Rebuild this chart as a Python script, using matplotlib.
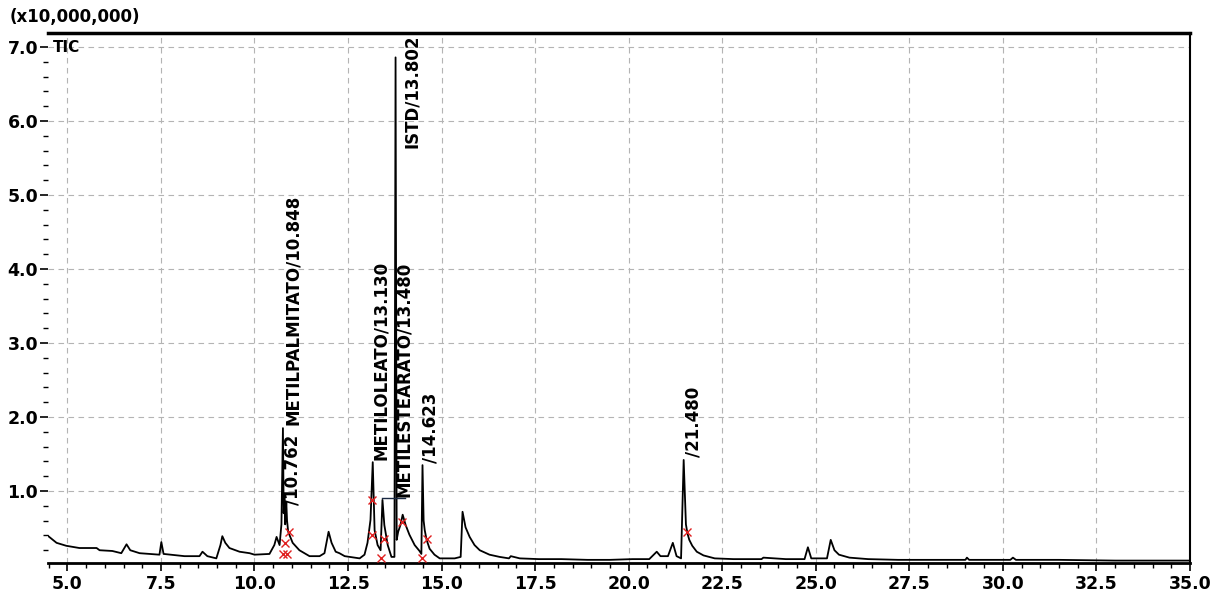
#-- Begin importing modules.

import numpy as n
import matplotlib
matplotlib.use('Agg')
import matplotlib.pyplot as plt
from matplotlib.ticker import MultipleLocator, FixedLocator

#-- Finish importing modules.


#-- Chromatogram values (time / min, intensity / 1e7).

rt = [4.49, 4.71, 4.97, 5.32, 5.78, 5.86, 6.20, 6.44, 6.58, 6.68, 6.93, 7.46,
      7.51, 7.57, 8.13, 8.53, 8.61, 8.74, 8.98, 9.09, 9.14, 9.22, 9.33, 9.60,
      9.87, 10.00, 10.40, 10.53, 10.59, 10.67, 10.72, 10.76, 10.78, 10.80,
      10.82, 10.85, 10.87, 10.90, 10.94, 11.02, 11.20, 11.47, 11.74, 11.87,
      11.98, 12.06, 12.17, 12.27, 12.41, 12.81, 12.94, 13.02, 13.10, 13.16,
      13.21, 13.29, 13.37, 13.42, 13.47, 13.56, 13.66, 13.74, 13.77, 13.80,
      13.84, 13.90, 13.96, 14.04, 14.14, 14.28, 14.41, 14.46, 14.49, 14.52,
      14.55, 14.60, 14.68, 14.81, 14.95, 15.35, 15.51, 15.56, 15.64, 15.75,
      15.88, 16.02, 16.28, 16.55, 16.80, 16.85, 17.09, 17.60, 18.20, 18.90,
      19.50, 20.10, 20.55, 20.75, 20.85, 21.05, 21.18, 21.28, 21.40, 21.47,
      21.50, 21.53, 21.57, 21.62, 21.70, 21.82, 22.00, 22.30, 22.80, 23.55,
      23.60, 24.20, 24.70, 24.79, 24.88, 25.30, 25.40, 25.50, 25.62, 25.90,
      26.40, 27.20, 28.20, 29.00, 29.04, 29.10, 30.20, 30.27, 30.35, 31.50,
      33.00, 35.00]
intensity = [0.39, 0.30, 0.26, 0.23, 0.23, 0.20, 0.19, 0.16, 0.28, 0.20, 0.16,
             0.14, 0.31, 0.15, 0.12, 0.12, 0.18, 0.12, 0.09, 0.27, 0.39, 0.30,
             0.23, 0.18, 0.16, 0.14, 0.15, 0.27, 0.38, 0.27, 0.55, 1.85, 0.70,
             0.95, 0.55, 0.85, 0.60, 0.45, 0.40, 0.30, 0.20, 0.12, 0.12, 0.16,
             0.45, 0.30, 0.18, 0.16, 0.12, 0.09, 0.14, 0.30, 0.61, 1.39, 0.47,
             0.27, 0.20, 0.88, 0.54, 0.27, 0.11, 0.11, 6.86, 0.34, 0.45, 0.54,
             0.68, 0.54, 0.41, 0.27, 0.19, 0.15, 1.35, 0.60, 0.47, 0.34, 0.22,
             0.14, 0.09, 0.09, 0.11, 0.72, 0.51, 0.38, 0.27, 0.20, 0.14, 0.11,
             0.09, 0.12, 0.09, 0.08, 0.08, 0.07, 0.07, 0.08, 0.08, 0.18, 0.12,
             0.12, 0.30, 0.12, 0.09, 1.42, 0.97, 0.55, 0.43, 0.34, 0.26, 0.18,
             0.13, 0.09, 0.08, 0.08, 0.10, 0.08, 0.08, 0.24, 0.09, 0.09, 0.34,
             0.20, 0.14, 0.10, 0.08, 0.07, 0.07, 0.07, 0.10, 0.07, 0.07, 0.10,
             0.07, 0.07, 0.06, 0.06]

# Red integration marks (peak start / end)
mark_rt = [10.75, 10.82, 10.88, 10.92, 13.15, 13.14, 13.38, 13.45, 13.95,
           14.48, 14.60, 21.55]
mark_int = [0.15, 0.30, 0.15, 0.45, 0.88, 0.40, 0.10, 0.35, 0.58, 0.10,
            0.35, 0.45]

# Peak labels: text, time position of label, base height
peak_labels = ['/10.762', 'METILPALMITATO/10.848', 'METILOLEATO/13.130',
               'METILESTEARATO/13.480', 'ISTD/13.802', '/14.623', '/21.480']
label_rt = [11.02, 11.02, 13.38, 14.00, 14.20, 14.71, 21.74]
label_int = [0.81, 1.89, 1.42, 0.92, 5.64, 1.38, 1.46]

x_ticks = [5.0, 7.5, 10.0, 12.5, 15.0, 17.5, 20.0, 22.5, 25.0, 27.5, 30.0, 32.5, 35.0]
y_ticks = [1.0, 2.0, 3.0, 4.0, 5.0, 6.0, 7.0]


#-- Begin plotting.

fig = plt.figure(figsize=(12.11, 5.93), dpi=100)
ax = fig.add_axes([0.0396, 0.0514, 0.943, 0.893])

ax.plot(rt, intensity, color='black', lw=1.3, zorder=3)
ax.plot(mark_rt, mark_int, ls='none', marker='x', color='#e02020',
        markersize=6, mew=1.0, zorder=4)

# leader line from the 13.48 peak to its label
ax.plot([13.42, 14.02], [0.90, 0.90], color='#1a2a44', lw=1.0, zorder=3)

for txt, x, y in zip(peak_labels, label_rt, label_int):
    ax.text(x, y, txt, rotation=90, ha='center', va='bottom',
            fontsize=12, fontweight='bold', color='black', zorder=5)

ax.text(4.60, 7.0, 'TIC', ha='left', va='center', fontsize=11,
        fontweight='bold')
fig.text(0.008, 0.971, '(x10,000,000)', ha='left', va='center',
         fontsize=12, fontweight='bold')

ax.set_xlim(4.48, 35.0)
ax.set_ylim(0.034, 7.19)

ax.xaxis.set_major_locator(FixedLocator(x_ticks))
ax.set_xticklabels(['%.1f' % v for v in x_ticks])
ax.xaxis.set_minor_locator(MultipleLocator(0.5))
ax.yaxis.set_major_locator(FixedLocator(y_ticks))
ax.set_yticklabels(['%.1f' % v for v in y_ticks])
ax.yaxis.set_minor_locator(MultipleLocator(0.2))

ax.tick_params(axis='both', which='major', labelsize=12.5, width=1.2,
               length=6, color='black')
ax.tick_params(axis='both', which='minor', width=1.0, length=3.5)
for lab in ax.get_xticklabels() + ax.get_yticklabels():
    lab.set_fontweight('bold')
ax.tick_params(axis='y', pad=1)
ax.tick_params(axis='x', pad=3)

ax.grid(True, which='major', color='#b4b4b4', ls=(0, (5, 4)), lw=0.8)

ax.spines['left'].set_visible(False)
ax.spines['top'].set_linewidth(2.5)
ax.spines['right'].set_linewidth(1.5)
ax.spines['bottom'].set_linewidth(2.0)

plt.savefig('out.png', dpi=100)

#-- Finish .py file.
